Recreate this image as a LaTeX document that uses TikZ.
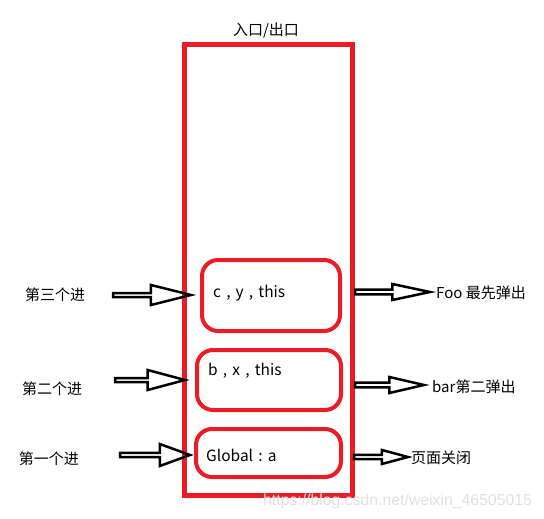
\documentclass[tikz,border=0pt]{standalone}
\usepackage{fontspec}
\setmainfont{Noto Sans CJK SC}
\newfontfamily\wmfont{Liberation Sans}
\usetikzlibrary{shapes.arrows}
\definecolor{paintred}{HTML}{ED1C24}
\tikzset{
  stackbox/.style={draw=paintred, line width=4pt},
  frame/.style={draw=paintred, line width=5pt},
  blockarrow/.style={single arrow, draw=black, line width=2.5pt, inner sep=0pt, outer sep=0pt,
     single arrow head extend=5pt, anchor=west},
  lbl/.style={font=\fontsize{15}{17}\selectfont, inner sep=0pt},
  rlbl/.style={font=\fontsize{15}{17}\selectfont, inner sep=0pt, anchor=west},
  blbl/.style={font=\fontsize{15.5}{17}\selectfont, inner sep=0pt, anchor=west},
}
\begin{document}
\begin{tikzpicture}[x=1pt,y=-1pt]
\useasboundingbox (0,0) rectangle (544,519);
% outer stack
\draw[frame] (184.5,44.5) rectangle (352.5,495);
\node[lbl] (entry) at (266,31) {入口/出口};
% frames
\draw[stackbox, rounded corners=16pt] (202,260) rectangle (340,331);
\draw[stackbox, rounded corners=16pt] (197,350) rectangle (341,410);
\draw[stackbox, rounded corners=16pt] (196,429) rectangle (341,477);
\node[blbl] (f3) at (213,293) {c\,\,,\,\,y\,\,,\,\,this};
\node[blbl] (f2) at (208,371) {b\,\,,\,\,x\,\,,\,\,this};
\node[blbl] (f1) at (206,455) {Global\,\,:\,\,a};
% left arrows
\node[blockarrow, minimum height=78pt, minimum width=20pt, single arrow tip angle=28] (la3) at (113,295) {};
\node[blockarrow, minimum height=70pt, minimum width=20pt, single arrow tip angle=30] (la2) at (115,380) {};
\node[blockarrow, minimum height=70pt, minimum width=22pt, single arrow tip angle=40] (la1) at (120,455) {};
\node[lbl] (l3) at (55,295) {第三个进};
\node[lbl] (l2) at (52,389) {第二个进};
\node[lbl] (l1) at (49,459) {第一个进};
% right arrows
\node[blockarrow, minimum height=75pt, minimum width=16pt, single arrow head extend=3pt, single arrow tip angle=24] (ra3) at (355,292) {};
\node[blockarrow, minimum height=69pt, minimum width=16pt, single arrow head extend=3pt, single arrow tip angle=26] (ra2) at (355,385) {};
\node[blockarrow, minimum height=54pt, minimum width=14pt, single arrow head extend=3pt, single arrow tip angle=30] (ra1) at (354,457) {};
\node[rlbl] (r3) at (436,293) {Foo 最先弹出};
\node[rlbl] (r2) at (432,387) {bar第二弹出};
\node[rlbl] (r1) at (411,458) {页面关闭};
% watermark
\node[font=\wmfont\fontsize{15.8}{17}\selectfont, text=black!12, anchor=west, inner sep=0pt] (wm) at (263,501) {https://blog.csdn.net/weixin\_46505015};
\end{tikzpicture}
\end{document}
